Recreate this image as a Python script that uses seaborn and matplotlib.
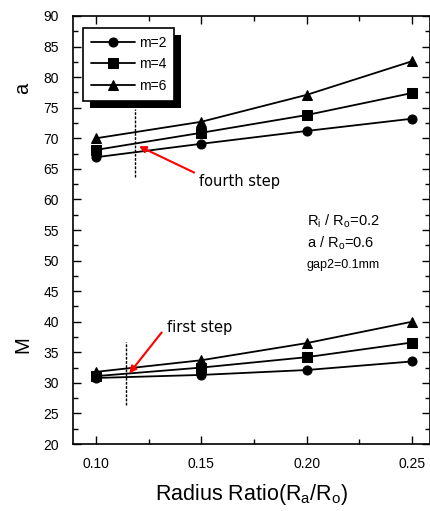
import matplotlib
matplotlib.use("Agg")
import matplotlib.pyplot as plt
import matplotlib.patches as mpatches
from matplotlib.ticker import MultipleLocator, FormatStrFormatter
import seaborn as sns
import pandas as pd

# Radius ratio Ra/Ro
ratio = [0.10, 0.15, 0.20, 0.25]

# upper group (a)
a_m2 = [66.9, 69.1, 71.2, 73.2]
a_m4 = [68.1, 70.9, 73.8, 77.4]
a_m6 = [70.0, 72.7, 77.1, 82.6]

# lower group (M)
M_m2 = [30.8, 31.3, 32.1, 33.5]
M_m4 = [31.1, 32.5, 34.2, 36.6]
M_m6 = [31.8, 33.7, 36.5, 40.0]

series_labels = ["m=2", "m=4", "m=6"]
series_markers = ["o", "s", "^"]

sns.set_style("ticks")
plt.rcParams["font.family"] = ["Liberation Sans", "DejaVu Sans"]
plt.rcParams["text.color"] = "black"
plt.rcParams["axes.labelcolor"] = "black"
plt.rcParams["xtick.color"] = "black"
plt.rcParams["ytick.color"] = "black"

fig = plt.figure(figsize=(4.31, 5.11), dpi=100)
ax = fig.add_axes([0.1694, 0.1311, 0.828, 0.8376])

rows = []
for grp, vals in (("a", [a_m2, a_m4, a_m6]), ("M", [M_m2, M_m4, M_m6])):
    for lab, ys in zip(series_labels, vals):
        for x, y in zip(ratio, ys):
            rows.append({"ratio": x, "value": y, "series": lab, "group": grp})
df = pd.DataFrame(rows)

for grp in ("a", "M"):
    for lab, mk in zip(series_labels, series_markers):
        sub = df[(df.group == grp) & (df.series == lab)]
        sns.lineplot(data=sub, x="ratio", y="value", ax=ax, color="black",
                     marker=mk, markersize=6.5, markeredgecolor="black",
                     linewidth=1.3, label=lab if grp == "a" else None,
                     legend=False)

# step markers
ax.plot([0.1185, 0.1185], [63.7, 74.8], color="black", linestyle=(0, (2, 1)), linewidth=1.0)
ax.plot([0.1141, 0.1141], [26.4, 36.7], color="black", linestyle=(0, (2, 1)), linewidth=1.0)

ax.annotate("", xy=(0.1192, 68.9), xytext=(0.1478, 64.2),
            arrowprops=dict(arrowstyle="-|>", color="red", lw=1.5, mutation_scale=10))
ax.annotate("", xy=(0.1150, 31.2), xytext=(0.1320, 38.6),
            arrowprops=dict(arrowstyle="-|>", color="red", lw=1.5, mutation_scale=10))
ax.text(0.1488, 63.0, "fourth step", fontsize=10.5, family="DejaVu Sans",
        va="center", ha="left")
ax.text(0.1338, 39.0, "first step", fontsize=10.5, family="DejaVu Sans",
        va="center", ha="left")

ax.text(0.2000, 56.5, r"R$_\mathregular{i}$ / R$_\mathregular{o}$=0.2", fontsize=10.5, va="center")
ax.text(0.2000, 52.9, r"a / R$_\mathregular{o}$=0.6", fontsize=10.5, va="center")
ax.text(0.2000, 49.3, "gap2=0.1mm", fontsize=9, va="center")

ax.set_xlim(0.0891, 0.2585)
ax.set_ylim(20, 90)
ax.xaxis.set_major_locator(MultipleLocator(0.05))
ax.xaxis.set_minor_locator(MultipleLocator(0.025))
ax.xaxis.set_major_formatter(FormatStrFormatter("%.2f"))
ax.yaxis.set_major_locator(MultipleLocator(5))
ax.yaxis.set_minor_locator(MultipleLocator(2.5))
ax.tick_params(which="both", direction="in", top=True, right=True, width=1.0,
               labelsize=10)
ax.tick_params(which="major", length=6)
ax.tick_params(which="minor", length=3.5)
ax.tick_params(axis="x", pad=9)
ax.tick_params(axis="y", pad=10)
for s in ax.spines.values():
    s.set_linewidth(1.2)
    s.set_color("black")

ax.set_xlabel(r"Radius Ratio(R$_\mathregular{a}$/R$_\mathregular{o}$)", fontsize=15.5, labelpad=8)
ax.set_ylabel("")
fig.text(0.053, 0.828, "a", rotation=90, fontsize=14.5, ha="center", va="center")
fig.text(0.053, 0.325, "M", rotation=90, fontsize=14.5, ha="center", va="center")

leg = ax.legend(loc="upper left", bbox_to_anchor=(0.028, 0.972), frameon=True,
                fancybox=False, edgecolor="black", facecolor="white", framealpha=1,
                handlelength=3.2, borderpad=0.55, labelspacing=0.55,
                handletextpad=0.3, borderaxespad=0, prop={"size": 10})
leg.get_frame().set_linewidth(1.2)
leg.set_zorder(5)

# solid drop shadow behind the legend box
fig.canvas.draw()
bb = leg.get_window_extent().transformed(ax.transAxes.inverted())
dx, dy = 7 / (0.828 * 431), 7 / (0.8376 * 511)
ax.add_patch(mpatches.Rectangle((bb.x0 + dx, bb.y0 - dy), bb.width, bb.height,
                                transform=ax.transAxes, facecolor="black",
                                edgecolor="none", zorder=4.5))

fig.savefig("out.png", dpi=100)
